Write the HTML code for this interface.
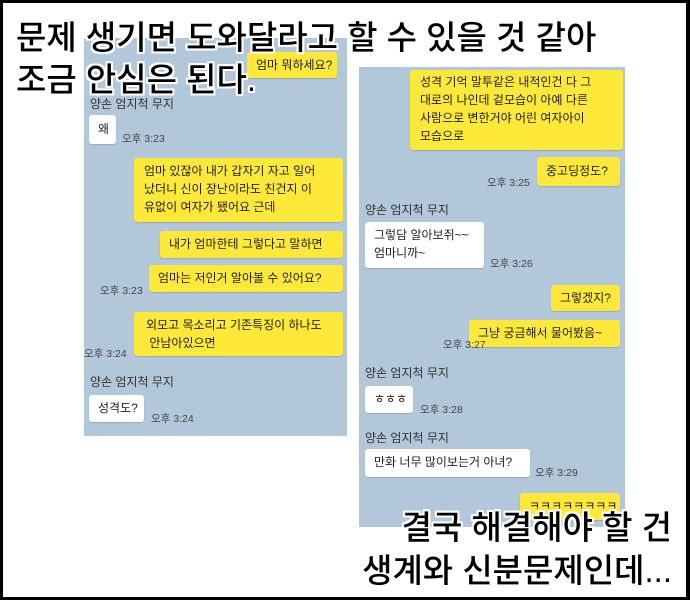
<!DOCTYPE html>
<html><head><meta charset="utf-8"><style>
*{margin:0;padding:0;box-sizing:border-box}
body{width:690px;height:600px;background:#fff;position:relative;overflow:hidden;font-family:"Liberation Sans","Noto Sans CJK KR",sans-serif}
.frame{position:absolute;left:0;top:0;width:690px;height:600px;border:3px solid #000;border-right-width:4px;z-index:5;pointer-events:none}
.panel{position:absolute;background:#b2c7da}
.b{position:absolute;font-size:12px;line-height:18px;color:#222;padding:4px 9px;border-radius:3px;white-space:nowrap;box-shadow:0 1px 1px rgba(0,0,0,.15)}
.y{background:#fee83a}
.w{background:#fff}
.t{position:absolute;font-size:10.5px;color:#444;white-space:nowrap}
.n{position:absolute;font-size:12px;color:#333;white-space:nowrap}
.cap{position:absolute;font-size:33px;font-weight:500;color:#000;white-space:nowrap;z-index:4;line-height:40px;
text-shadow:2px 0 #fff,-2px 0 #fff,0 2px #fff,0 -2px #fff,2px 2px #fff,-2px -2px #fff,2px -2px #fff,-2px 2px #fff}
</style></head><body>
<div class="frame"></div>
<div class="panel" style="left:84px;top:38px;width:263px;height:398px"></div>
<div class="panel" style="left:359px;top:67px;width:266px;height:460px"></div>

<div class="b y" style="left:247px;top:52px;width:90px;height:26px">엄마 뭐하세요?</div>
<div class="n" style="left:90px;top:95px">양손 엄지척 무지</div>
<div class="b w" style="left:89px;top:115px;width:27px;height:29px;padding-top:5px">왜</div>
<div class="t" style="left:122px;top:131px">오후 3:23</div>
<div class="b y" style="left:134px;top:158px;width:209px;height:64px;padding:4px 10px">엄마 있잖아 내가 갑자기 자고 일어<br>났더니 신이 장난이라도 친건지 이<br>유없이 여자가 됐어요 근데</div>
<div class="b y" style="left:160px;top:231px;width:183px;height:27px">내가 엄마한테 그렇다고 말하면</div>
<div class="b y" style="left:149px;top:265px;width:194px;height:27px">엄마는 저인거 알아볼 수 있어요?</div>
<div class="t" style="left:100px;top:283px">오후 3:23</div>
<div class="b y" style="left:134px;top:312px;width:209px;height:44px;padding:4px 12px">외모고 목소리고 기존특징이 하나도<br>&nbsp;안남아있으면</div>
<div class="t" style="left:84px;top:346px">오후 3:24</div>
<div class="n" style="left:90px;top:373px">양손 엄지척 무지</div>
<div class="b w" style="left:89px;top:395px;width:55px;height:27px">성격도?</div>
<div class="t" style="left:151px;top:411px">오후 3:24</div>

<div class="b y" style="left:410px;top:70px;width:213px;height:80px;padding:3px 10px">성격 기억 말투같은 내적인건 다 그<br>대로의 나인데 겉모습이 아예 다른<br>사람으로 변한거야 어린 여자아이<br>모습으로</div>
<div class="b y" style="left:537px;top:157px;width:83px;height:29px;padding-top:5px">중고딩정도?</div>
<div class="t" style="left:487px;top:175px">오후 3:25</div>
<div class="n" style="left:365px;top:201px">양손 엄지척 무지</div>
<div class="b w" style="left:365px;top:222px;width:119px;height:46px">그렇담 알아보쥐~~<br>엄마니까~</div>
<div class="t" style="left:490px;top:256px">오후 3:26</div>
<div class="b y" style="left:551px;top:285px;width:69px;height:26px">그렇겠지?</div>
<div class="b y" style="left:469px;top:320px;width:151px;height:27px">그냥 궁금해서 물어봤음~</div>
<div class="t" style="left:443px;top:337px">오후 3:27</div>
<div class="n" style="left:365px;top:364px">양손 엄지척 무지</div>
<div class="b w" style="left:365px;top:386px;width:48px;height:27px">ㅎㅎㅎ</div>
<div class="t" style="left:420px;top:402px">오후 3:28</div>
<div class="n" style="left:365px;top:429px">양손 엄지척 무지</div>
<div class="b w" style="left:365px;top:449px;width:165px;height:28px">만화 너무 많이보는거 아녀?</div>
<div class="t" style="left:535px;top:465px">오후 3:29</div>
<div class="b y" style="left:520px;top:493px;width:100px;height:27px">ㅋㅋㅋㅋㅋㅋㅋㅋ</div>

<div class="cap" style="left:16px;top:18px">문제 생기면 도와달라고 할 수 있을 것 같아</div>
<div class="cap" style="left:16px;top:60px">조금 안심은 된다.</div>
<div class="cap" style="right:18px;top:508px">결국 해결해야 할 건</div>
<div class="cap" style="right:18px;top:551px">생계와 신분문제인데...</div>
</body></html>
